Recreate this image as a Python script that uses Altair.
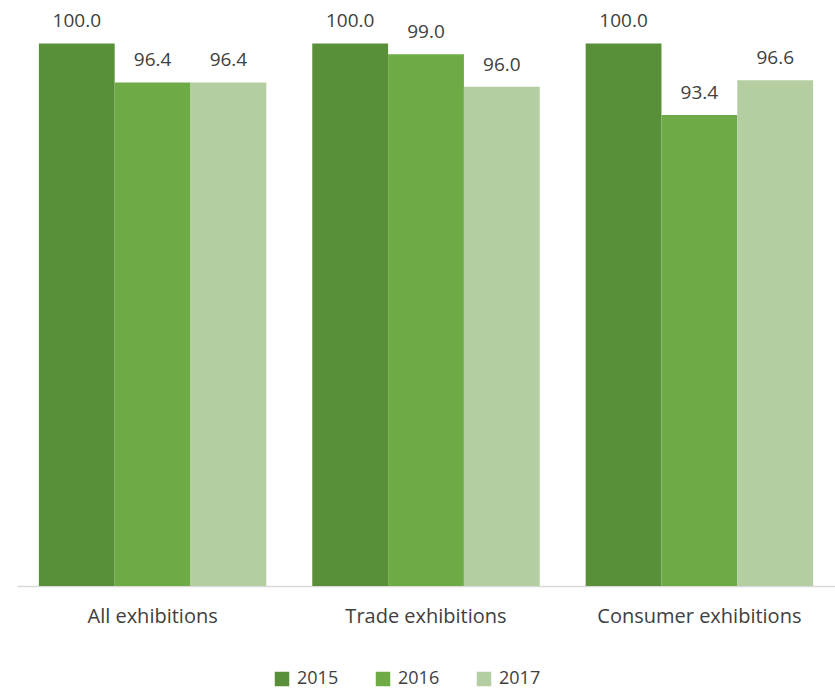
import altair as alt
import pandas as pd

categories = ["All exhibitions", "Trade exhibitions", "Consumer exhibitions"]
years = ["2015", "2016", "2017"]
values_2015 = [100.0, 100.0, 100.0]
values_2016 = [96.4, 99.0, 93.4]
values_2017 = [96.4, 96.0, 96.6]
colors = ["#5a8f3a", "#6eab46", "#b4cea2"]

rows = []
for yr, vals in zip(years, [values_2015, values_2016, values_2017]):
    for c, v in zip(categories, vals):
        rows.append({"category": c, "year": yr, "value": v})
df = pd.DataFrame(rows)

font = "Open Sans"

base = alt.Chart(df).encode(
    x=alt.X("category:N", sort=categories, title=None,
            scale=alt.Scale(paddingInner=0.168, paddingOuter=0.08),
            axis=alt.Axis(labelAngle=0, ticks=False, domainColor="#d9d9d9",
                          domainWidth=1.5, labelFontSize=20, labelFont=font,
                          labelColor="#404040", labelPadding=20, labelLimit=0)),
    xOffset=alt.XOffset("year:N", sort=years, scale=alt.Scale(paddingInner=0, paddingOuter=0)),
    y=alt.Y("value:Q", scale=alt.Scale(domain=[50, 104], zero=False, nice=False, clamp=True), axis=None),
)

bars = base.mark_bar(clip=True).encode(
    color=alt.Color("year:N", sort=years,
                    scale=alt.Scale(domain=years, range=colors),
                    legend=alt.Legend(title=None, orient="none", direction="horizontal",
                                      legendX=256, legendY=670, symbolType="square",
                                      symbolSize=210, symbolStrokeWidth=0,
                                      labelFontSize=18, labelFont=font, labelColor="#404040",
                                      columnPadding=35, labelOffset=6)),
)

labels = base.mark_text(dy=-22, baseline="middle", fontSize=19, font=font, color="#404040").encode(
    text=alt.Text("value:Q", format=".1f"),
)

chart = (bars + labels).properties(
    width=818, height=586,
    autosize=alt.AutoSizeParams(type="none"),
    padding={"left": 17, "top": 0, "right": 0, "bottom": 106},
).configure_view(stroke=None)

chart.save("out.html", embed_options={"renderer": "svg", "actions": False})
